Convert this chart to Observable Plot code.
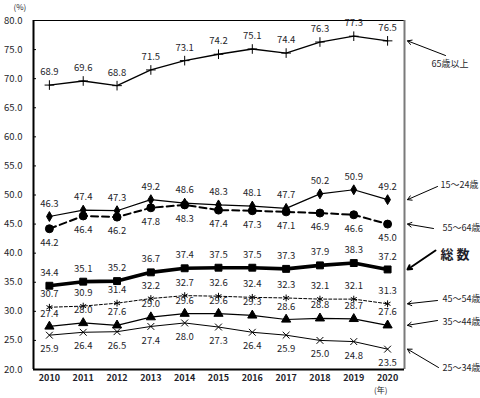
<!DOCTYPE html>
<html><head><meta charset="utf-8">
<script src="https://cdn.jsdelivr.net/npm/d3@7"></script>
<script src="https://cdn.jsdelivr.net/npm/@observablehq/plot@0.6"></script>
<style>html,body{margin:0;padding:0;background:#fff}svg{display:block}</style>
</head><body><div id="chart"></div>
<script>
// ---- data ----
const years = [2010, 2011, 2012, 2013, 2014, 2015, 2016, 2017, 2018, 2019, 2020];
const age65plus = [68.9, 69.6, 68.8, 71.5, 73.1, 74.2, 75.1, 74.4, 76.3, 77.3, 76.5];
const age15to24 = [46.3, 47.4, 47.3, 49.2, 48.6, 48.3, 48.1, 47.7, 50.2, 50.9, 49.2];
const age55to64 = [44.2, 46.4, 46.2, 47.8, 48.3, 47.4, 47.3, 47.1, 46.9, 46.6, 45.0];
const total     = [34.4, 35.1, 35.2, 36.7, 37.4, 37.5, 37.5, 37.3, 37.9, 38.3, 37.2];
const age45to54 = [30.7, 30.9, 31.4, 32.2, 32.7, 32.6, 32.4, 32.3, 32.1, 32.1, 31.3];
const age35to44 = [27.4, 28.0, 27.6, 29.0, 29.6, 29.6, 29.3, 28.6, 28.8, 28.7, 27.6];
const age25to34 = [25.9, 26.4, 26.5, 27.4, 28.0, 27.3, 26.4, 25.9, 25.0, 24.8, 23.5];
const seriesLabels = ["65歳以上", "15～24歳", "55～64歳", "総 数", "45～54歳", "35～44歳", "25～34歳"];
const yTicks = [20, 25, 30, 35, 40, 45, 50, 55, 60, 65, 70, 75, 80];
const unitLabel = "(%)";
const yearUnitLabel = "(年)";

// ---- layout / styles ----
const W = 480, H = 398, mL = 33, mR = 76, mT = 20, mB = 29;
const xDomain = [2009.53, 2020.5], yDomain = [20, 80];
const px2x = px => xDomain[0] + (px - mL) / (W - mL - mR) * (xDomain[1] - xDomain[0]);
const py2y = py => yDomain[1] - (py - mT) / (H - mT - mB) * (yDomain[1] - yDomain[0]);

const seriesValues = [age65plus, age15to24, age55to64, total, age45to54, age35to44, age25to34];
const styles = [
  {sw: 1.3, dash: null,  symbol: "plus",     r: 3.2, fill: "none", below: false},
  {sw: 1.2, dash: null,  symbol: "diamond",  r: 3.0, fill: "#000", below: false},
  {sw: 2.0, dash: "7,4", symbol: "circle",   r: 4.0, fill: "#000", below: true},
  {sw: 3.6, dash: null,  symbol: "square",   r: 3.9, fill: "#000", below: false},
  {sw: 1.0, dash: "3,2", symbol: "asterisk", r: 3.2, fill: "none", below: false},
  {sw: 1.2, dash: null,  symbol: "triangle", r: 3.4, fill: "#000", below: false},
  {sw: 1.0, dash: null,  symbol: "times",    r: 3.2, fill: "none", below: true}
];
// annotation placement (pixels): arrow tail (tx,ty), text start (lx,ly)
const annoLayout = [
  {tx: 445, ty: 55,  lx: 431, ly: 64,  sw: 1, bold: false},
  {tx: 437, ty: 186, lx: 440, ly: 185, sw: 1, bold: false},
  {tx: 433, ty: 228, lx: 442, ly: 228, sw: 1, bold: false},
  {tx: 435, ty: 250, lx: 440, ly: 254, sw: 2, bold: true},
  {tx: 437, ty: 300, lx: 442, ly: 299, sw: 1, bold: false},
  {tx: 437, ty: 320, lx: 442, ly: 322, sw: 1, bold: false},
  {tx: 438, ty: 367, lx: 442, ly: 368, sw: 1, bold: false}
];

const rows = [];
seriesValues.forEach((vals, i) => vals.forEach((v, j) => rows.push({series: i, year: years[j], value: v})));
const annos = seriesLabels.map((t, i) => ({text: t, last: seriesValues[i][seriesValues[i].length - 1], ...annoLayout[i]}));

const txtColor = "#1e1e2a";
const marks = [];
// frame
marks.push(Plot.ruleY([yDomain[1]], {stroke: "#000", strokeWidth: 1}));
marks.push(Plot.ruleX([xDomain[1]], {stroke: "#7a7a7a", strokeWidth: 2}));
marks.push(Plot.ruleY([yDomain[0]], {stroke: "#000", strokeWidth: 2}));
marks.push(Plot.ruleX([xDomain[0]], {stroke: "#000", strokeWidth: 2}));
marks.push(Plot.axisY({ticks: yTicks, tickFormat: d => d.toFixed(1), tickSize: 0, tickPadding: 11, fontSize: 9.5, fill: txtColor, label: null}));
marks.push(Plot.ruleY(yTicks, {x1: xDomain[0], x2: px2x(mL + 3), stroke: "#000", strokeWidth: 1}));
marks.push(Plot.axisX({ticks: years, tickFormat: d => String(d), tickSize: 0, tickPadding: 5, fontSize: 9, fontWeight: 600, fill: txtColor, label: null}));

styles.forEach((s, i) => {
  const data = rows.filter(d => d.series === i);
  marks.push(Plot.line(data, {x: "year", y: "value", stroke: "#000", strokeWidth: s.sw, strokeDasharray: s.dash, strokeLinejoin: "miter"}));
  marks.push(Plot.dot(data, {x: "year", y: "value", symbol: () => s.symbol, r: s.r, fill: s.fill, stroke: "#000", strokeWidth: 1}));
  marks.push(Plot.text(data, {x: "year", y: "value", text: d => d.value.toFixed(1), dy: s.below ? 14 : -13, fontSize: 9.5, fill: txtColor}));
});

// annotations
marks.push(Plot.arrow(annos, {x1: d => px2x(d.tx), y1: d => py2y(d.ty), x2: px2x(407), y2: d => d.last,
  stroke: "#000", strokeWidth: d => d.sw, headLength: 7, bend: 0}));
marks.push(Plot.text(annos.filter(d => !d.bold), {x: d => px2x(d.lx), y: d => py2y(d.ly), text: "text", textAnchor: "start",
  fontSize: 9, fill: txtColor}));
marks.push(Plot.text(annos.filter(d => d.bold), {x: d => px2x(d.lx), y: d => py2y(d.ly), text: "text", textAnchor: "start",
  fontSize: 13, fontWeight: "bold", fill: txtColor}));
marks.push(Plot.text([unitLabel], {frameAnchor: "top-left", lineAnchor: "middle", dx: -20, dy: -13.5, fontSize: 8, fill: txtColor}));
marks.push(Plot.text([yearUnitLabel], {frameAnchor: "bottom-right", dx: -17, dy: 23, fontSize: 8, fill: txtColor}));

const chart = Plot.plot({
  width: W, height: H,
  marginLeft: mL, marginRight: mR, marginTop: mT, marginBottom: mB,
  x: {type: "linear", domain: xDomain},
  y: {type: "linear", domain: yDomain},
  style: {fontFamily: '"Noto Sans CJK JP", "Noto Sans", sans-serif', background: "#fff", overflow: "visible"},
  marks
});
document.getElementById("chart").appendChild(chart);
</script>
</body></html>
